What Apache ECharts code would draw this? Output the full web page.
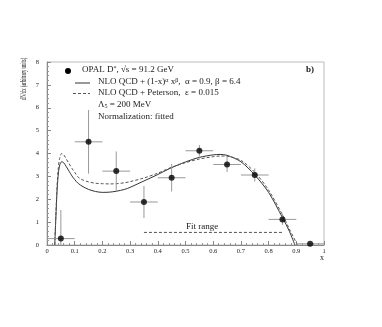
<!DOCTYPE html>
<html>
<head>
<meta charset="utf-8">
<script src="https://cdn.jsdelivr.net/npm/echarts@6/dist/echarts.min.js"></script>
<style>
  html, body { margin: 0; padding: 0; background: #fff; }
  #chart { width: 382px; height: 327px; }
</style>
</head>
<body>
<div id="chart"></div>
<script>
// OPAL data points
const dataX = [0.05, 0.15, 0.25, 0.35, 0.45, 0.55, 0.65, 0.75, 0.85, 0.95];
const dataY = [0.28, 4.51, 3.23, 1.88, 2.94, 4.12, 3.52, 3.06, 1.12, 0.05];
const dataErr = [1.25, 1.39, 0.86, 0.7, 0.6, 0.25, 0.33, 0.29, 0.24, 0];
const binHalf = [0.05, 0.05, 0.05, 0.05, 0.05, 0.05, 0.05, 0.05, 0.05, 0.05];

// NLO QCD + (1-x)^a x^b (solid)
const solidX = [0.028, 0.032, 0.036, 0.04, 0.045, 0.053, 0.06, 0.07, 0.08, 0.09, 0.1, 0.113, 0.13, 0.15, 0.175, 0.2, 0.225, 0.25, 0.28, 0.3, 0.35, 0.4, 0.444, 0.5, 0.55, 0.6, 0.625, 0.65, 0.7, 0.75, 0.8, 0.85, 0.875, 0.895];
const solidY = [0, 1.2, 2.3, 3.0, 3.45, 3.64, 3.6, 3.42, 3.22, 3.02, 2.86, 2.69, 2.55, 2.43, 2.34, 2.3, 2.31, 2.35, 2.43, 2.52, 2.8, 3.08, 3.35, 3.63, 3.83, 3.94, 3.96, 3.92, 3.64, 3.06, 2.3, 1.2, 0.6, 0];

// NLO QCD + Peterson (dashed)
const dashX = [0.028, 0.032, 0.036, 0.04, 0.045, 0.053, 0.06, 0.07, 0.08, 0.09, 0.1, 0.113, 0.13, 0.15, 0.175, 0.2, 0.225, 0.25, 0.28, 0.3, 0.35, 0.4, 0.444, 0.5, 0.55, 0.6, 0.625, 0.65, 0.7, 0.75, 0.8, 0.85, 0.875, 0.904];
const dashY = [0, 1.3, 2.5, 3.25, 3.75, 4.0, 3.95, 3.75, 3.55, 3.35, 3.18, 2.96, 2.84, 2.76, 2.7, 2.68, 2.67, 2.68, 2.72, 2.77, 2.93, 3.14, 3.37, 3.6, 3.76, 3.86, 3.89, 3.88, 3.7, 3.18, 2.4, 1.32, 0.7, 0];

// fit range
const fitX = [0.35, 0.85];
const fitY = [0.55, 0.55];

const zip = (a, b) => a.map((v, i) => [v, b[i]]);

const chart = echarts.init(document.getElementById('chart'));
const serif = 'Liberation Serif, DejaVu Serif, serif';
const txt = '#222';

chart.setOption({
  animation: false,
  grid: { left: 47, right: 58, top: 62, bottom: 82, show: true, borderColor: '#bbb', borderWidth: 1 },
  xAxis: {
    type: 'value', min: 0, max: 1, interval: 0.1,
    axisLine: { show: true, lineStyle: { color: '#888' } },
    axisTick: { show: true, inside: true, length: 4, lineStyle: { color: '#888' } },
    minorTick: { show: true, splitNumber: 5, length: 2, lineStyle: { color: '#999' } },
    splitLine: { show: false },
    axisLabel: {
      margin: 3, fontFamily: serif, fontSize: 6.5, color: txt,
      formatter: v => (v === 0 ? '0' : v === 1 ? '1' : v.toFixed(1))
    }
  },
  yAxis: {
    type: 'value', min: 0, max: 8, interval: 1,
    axisLine: { show: true, lineStyle: { color: '#888' } },
    axisTick: { show: true, inside: true, length: 4, lineStyle: { color: '#888' } },
    minorTick: { show: true, splitNumber: 5, length: 2, lineStyle: { color: '#999' } },
    splitLine: { show: false },
    axisLabel: { margin: 8, fontFamily: serif, fontSize: 6.5, color: txt }
  },
  series: [
    {
      type: 'line', data: zip(solidX, solidY), smooth: 0.3, showSymbol: false,
      lineStyle: { color: '#333', width: 1 }, z: 3
    },
    {
      type: 'line', data: zip(dashX, dashY), smooth: 0.3, showSymbol: false,
      lineStyle: { color: '#555', width: 1, type: [3, 2] }, z: 3
    },
    {
      type: 'line', data: zip(fitX, fitY), showSymbol: false,
      lineStyle: { color: '#555', width: 1, type: [3, 2] }, z: 3
    },
    {
      type: 'custom',
      data: dataX.map((x, i) => [x, dataY[i], dataErr[i], binHalf[i]]),
      renderItem: (params, api) => {
        const x = api.value(0), y = api.value(1), e = api.value(2), h = api.value(3);
        const l = api.coord([x - h, y]), r = api.coord([x + h, y]);
        const t = api.coord([x, y + e]), b = api.coord([x, Math.max(0, y - e)]);
        const st = { stroke: '#999', lineWidth: 1 };
        return {
          type: 'group',
          children: [
            { type: 'line', shape: { x1: l[0], y1: l[1], x2: r[0], y2: r[1] }, style: st },
            { type: 'line', shape: { x1: t[0], y1: t[1], x2: b[0], y2: b[1] }, style: st }
          ]
        };
      },
      z: 4
    },
    {
      type: 'scatter', data: zip(dataX, dataY), symbolSize: 6,
      itemStyle: { color: '#000' }, z: 5
    }
  ],
  graphic: [
    // legend
    { type: 'circle', shape: { cx: 68, cy: 71, r: 3 }, style: { fill: '#000' } },
    { type: 'line', shape: { x1: 75, y1: 83, x2: 90, y2: 83 }, style: { stroke: '#333', lineWidth: 1 } },
    { type: 'line', shape: { x1: 73, y1: 93.5, x2: 90, y2: 93.5 }, style: { stroke: '#555', lineWidth: 1, lineDash: [3, 2] } },
    {
      type: 'text', left: 82, top: 65,
      style: {
        text: '{n|OPAL D}{s|*}{n|, √s = 91.2 GeV}',
        rich: {
          n: { fontFamily: serif, fontSize: 9, fill: txt },
          s: { fontFamily: serif, fontSize: 6, fill: txt, verticalAlign: 'top', padding: [0, 0, 4, 0] }
        }
      }
    },
    {
      type: 'text', left: 98, top: 77,
      style: {
        text: '{n|NLO QCD + (1-x)}{s|α}{n| x}{s|β}{n|,  α = 0.9, β = 6.4}',
        rich: {
          n: { fontFamily: serif, fontSize: 9, fill: txt },
          s: { fontFamily: serif, fontSize: 6, fill: txt, verticalAlign: 'top', padding: [0, 0, 4, 0] }
        }
      }
    },
    { type: 'text', left: 98, top: 88, style: { text: 'NLO QCD + Peterson,  ε = 0.015', fontFamily: serif, fontSize: 9, fill: txt } },
    {
      type: 'text', left: 98, top: 100,
      style: {
        text: '{n|Λ}{b|5}{n| = 200 MeV}',
        rich: {
          n: { fontFamily: serif, fontSize: 9, fill: txt },
          b: { fontFamily: serif, fontSize: 6, fill: txt, verticalAlign: 'bottom', padding: [4, 0, 0, 0] }
        }
      }
    },
    { type: 'text', left: 98, top: 112, style: { text: 'Normalization: fitted', fontFamily: serif, fontSize: 9, fill: txt } },
    { type: 'text', left: 306, top: 65, style: { text: 'b)', fontFamily: serif, fontSize: 9, fontWeight: 'bold', fill: txt } },
    { type: 'text', left: 186, top: 222, style: { text: 'Fit range', fontFamily: serif, fontSize: 9, fill: txt } },
    { type: 'text', left: 320, top: 254, style: { text: 'x', fontFamily: serif, fontSize: 8, fill: txt } },
    {
      type: 'text', x: 24, y: 79, rotation: Math.PI / 2, scaleX: 0.52,
      style: { text: 'dN/dx (arbitrary units)', fontFamily: serif, fontSize: 9, fill: txt, align: 'center', verticalAlign: 'middle' }
    }
  ]
});
</script>
</body>
</html>
